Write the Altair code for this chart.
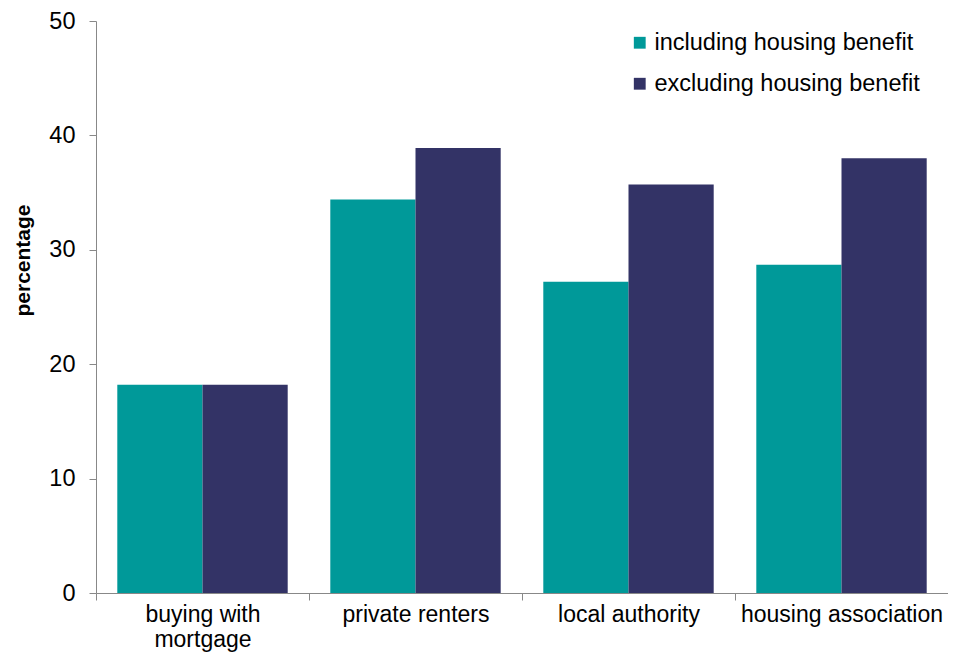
import altair as alt
import pandas as pd

categories = ["buying with mortgage", "private renters", "local authority", "housing association"]
series = ["including housing benefit", "excluding housing benefit"]
including = [18.2, 34.4, 27.2, 28.7]
excluding = [18.2, 38.9, 35.7, 38.0]
colors = ["#009999", "#333366"]

rows = []
for c, a, b in zip(categories, including, excluding):
    rows.append({"category": c, "series": series[0], "value": a})
    rows.append({"category": c, "series": series[1], "value": b})
df = pd.DataFrame(rows)

FONT = "Liberation Sans"
W = 852
STEP = W / len(categories)

chart = alt.Chart(df).mark_bar().encode(
    x=alt.X("category:N", sort=categories,
            scale=alt.Scale(paddingInner=0, paddingOuter=0),
            axis=alt.Axis(title=None, labelAngle=0, tickOffset=-STEP / 2, labelOffset=STEP / 2,
                          domainColor="#888888", tickColor="#888888", tickSize=7,
                          labelFontSize=23, labelFont=FONT, labelColor="#000000",
                          labelPadding=3, labelLineHeight=25, labelLimit=0,
                          labelExpr="datum.label == 'buying with mortgage' ? ['buying with', 'mortgage'] : datum.label")),
    xOffset=alt.XOffset("series:N", sort=series,
                        scale=alt.Scale(paddingInner=0, paddingOuter=0.25)),
    y=alt.Y("value:Q", scale=alt.Scale(domain=[0, 50]),
            axis=alt.Axis(title="percentage", values=[0, 10, 20, 30, 40, 50], grid=False,
                          domainColor="#888888", tickColor="#888888", tickSize=7,
                          labelFontSize=23.5, labelFont=FONT, labelColor="#000000", labelPadding=14,
                          titleFont=FONT, titleFontSize=21, titleFontWeight="bold",
                          titleColor="#000000", titleAngle=-90, titleAlign="center",
                          titleBaseline="middle", titleX=-73, titleY=239)),
    color=alt.Color("series:N", sort=series,
                    scale=alt.Scale(domain=series, range=colors),
                    legend=alt.Legend(title=None, orient="none", legendX=532, legendY=10,
                                      symbolType="square", symbolSize=140, symbolStrokeWidth=0,
                                      labelFont=FONT, labelFontSize=23.5, labelColor="#000000",
                                      labelLimit=0, rowPadding=16, padding=0, labelOffset=3)),
).properties(
    width=W, height=572,
    autosize=alt.AutoSizeParams(type="none"),
    padding={"left": 88, "top": 13, "right": 0, "bottom": 61},
).configure_view(stroke=None)

chart.save("out.html", embed_options={"renderer": "svg", "actions": False})
